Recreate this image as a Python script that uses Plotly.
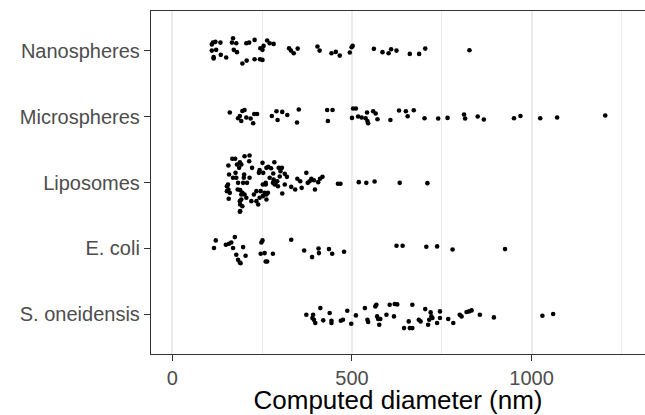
import plotly.graph_objects as go

# Category order from bottom (1) to top (5)
categories = ["S. oneidensis", "E. coli", "Liposomes", "Microspheres", "Nanospheres"]

# Computed diameters (nm) and vertical jitter offsets
nano_x = [113, 110, 120, 134, 110, 122, 115, 115, 135, 150, 169, 166, 178, 171, 180,
          195, 207, 206, 214, 229, 229, 244, 251, 251, 245, 254, 264, 271, 282, 325,
          330, 338, 349, 404, 410, 443, 455, 466, 494, 499, 502, 561, 585, 602, 609,
          624, 661, 687, 704, 827]
nano_dy = [0.121, 0.091, 0.132, 0.121, 0.0, 0.011, -0.1, -0.121, -0.065, -0.106, 0.188,
           0.121, 0.112, 0.011, -0.024, -0.197, -0.152, 0.112, 0.121, 0.162, -0.131,
           -0.131, -0.141, 0.011, 0.036, 0.071, 0.152, 0.112, 0.101, 0.036, 0.0, -0.04,
           0.03, 0.061, 0.0, -0.04, -0.02, -0.076, -0.03, 0.051, 0.071, 0.026, -0.024,
           -0.04, 0.021, 0.0, -0.05, -0.05, 0.03, 0.006]

micro_x = [160, 188, 183, 192, 195, 201, 206, 218, 225, 228, 236, 277, 290, 293, 306,
           320, 352, 347, 431, 446, 433, 503, 511, 500, 517, 527, 538, 542, 543, 545,
           559, 566, 571, 607, 631, 650, 655, 672, 702, 740, 766, 812, 815, 850, 867,
           951, 969, 1024, 1071, 1205]
micro_dy = [0.061, 0.009, -0.026, -0.067, 0.085, 0.1, -0.015, -0.03, -0.102, 0.039,
            0.039, 0.009, 0.08, -0.052, 0.07, 0.024, 0.106, -0.091, 0.1, 0.1, -0.067,
            0.121, 0.121, -0.021, 0.0, -0.015, -0.026, 0.061, -0.067, -0.102, 0.08,
            0.045, -0.041, -0.052, 0.091, 0.08, 0.005, 0.095, -0.026, -0.03, -0.021,
            0.03, -0.03, 0.0, -0.045, -0.026, 0.009, -0.026, -0.015, 0.015]

lipo_x = [167, 175, 201, 215, 188, 180, 192, 156, 214, 222, 251, 284, 262, 243, 241,
          275, 296, 305, 301, 158, 176, 200, 215, 169, 155, 152, 156, 160, 157, 183,
          197, 182, 189, 195, 201, 206, 188, 192, 252, 260, 257, 266, 262, 252, 234,
          239, 227, 246, 195, 189, 188, 281, 282, 288, 285, 294, 306, 313, 319, 331,
          342, 348, 356, 360, 373, 377, 382, 387, 394, 397, 406, 411, 418, 461, 468,
          519, 540, 563, 633, 710,
          186, 178, 199, 208, 152, 192, 189, 220, 243, 262, 260, 271, 280, 292, 299,
          313, 253, 267, 234]
lipo_dy = [0.359, 0.359, 0.399, 0.409, 0.308, 0.273, 0.273, 0.258, 0.323, 0.222, 0.298,
           0.308, 0.222, 0.187, 0.146, 0.217, 0.222, 0.222, 0.172, 0.121, 0.146, 0.121,
           0.071, 0.071, -0.03, -0.056, -0.106, -0.157, -0.247, -0.005, -0.005, -0.106,
           -0.116, -0.157, -0.182, -0.232, -0.283, -0.258, -0.03, -0.005, -0.157, -0.157,
           -0.258, -0.207, -0.283, -0.333, -0.182, -0.131, -0.359, -0.434, -0.444, 0.136,
           0.045, 0.005, -0.03, -0.056, -0.167, 0.131, 0.086, -0.066, -0.106, 0.056,
           0.02, -0.081, 0.146, -0.005, 0.02, 0.056, 0.035, -0.106, 0.005, 0.056, 0.086,
           -0.02, -0.02, 0.005, -0.005, 0.015, -0.005, -0.01,
           0.222, 0.071, 0.071, -0.005, -0.131, -0.182, -0.333, -0.283, -0.232, -0.182,
           -0.03, 0.071, -0.005, 0.02, 0.091, -0.03, 0.146, 0.237, -0.131]

ecoli_x = [121, 116, 149, 158, 164, 174, 169, 178, 183, 188, 190, 197, 204, 251, 248,
           246, 257, 260, 264, 280, 331, 367, 389, 407, 408, 436, 445, 478, 624, 641,
           707, 737, 780, 926]
ecoli_dy = [0.122, 0.006, 0.056, 0.071, 0.091, 0.172, 0.006, -0.095, -0.171, -0.212,
            -0.225, 0.021, -0.111, 0.122, 0.091, -0.08, -0.07, -0.197, -0.197, -0.08,
            0.132, -0.03, -0.131, 0.0, -0.07, -0.01, -0.08, -0.05, 0.041, 0.041, 0.026,
            0.031, -0.015, -0.01]

shew_x = [373, 392, 390, 394, 398, 412, 420, 438, 443, 443, 469, 475, 487, 498, 511,
          536, 543, 545, 565, 568, 570, 573, 576, 579, 596, 605, 619, 626, 617, 645,
          658, 661, 668, 668, 686, 691, 704, 712, 715, 719, 721, 724, 737, 745, 745,
          768, 782, 800, 805, 819, 826, 833, 856, 895, 1030, 1060]
shew_dy = [-0.005, -0.005, -0.055, -0.08, -0.131, 0.096, -0.09, 0.021, -0.095, -0.131,
           -0.095, -0.08, 0.056, -0.141, -0.015, 0.096, -0.08, -0.116, 0.122, 0.147,
           -0.03, -0.07, -0.156, -0.07, -0.005, 0.147, 0.157, 0.152, -0.03, -0.207,
           -0.106, -0.207, -0.207, 0.147, -0.08, -0.106, 0.081, -0.156, -0.08, 0.031,
           -0.03, -0.055, -0.131, 0.046, -0.055, -0.07, -0.131, -0.005, -0.03, 0.036,
           0.046, 0.061, -0.005, -0.045, -0.02, 0.006]

x_ticks = [0, 500, 1000]
x_minor_ticks = [250, 750, 1250]
x_title = "Computed diameter (nm)"

series = [
    ("S. oneidensis", shew_x, shew_dy),
    ("E. coli", ecoli_x, ecoli_dy),
    ("Liposomes", lipo_x, lipo_dy),
    ("Microspheres", micro_x, micro_dy),
    ("Nanospheres", nano_x, nano_dy),
]

fig = go.Figure()
for name, xs, dys in series:
    pos = categories.index(name) + 1
    fig.add_trace(go.Scatter(
        x=xs, y=[pos + d for d in dys], mode="markers", name=name,
        marker=dict(color="black", size=4.6, line=dict(width=0)),
        showlegend=False, hoverinfo="x+name",
    ))

font_family = "Liberation Sans, Arial, sans-serif"
fig.update_layout(
    width=645, height=415,
    margin=dict(l=151, r=0, t=11, b=61),
    paper_bgcolor="white", plot_bgcolor="white",
    font=dict(family=font_family, color="#4D4D4D", size=20),
)
fig.update_xaxes(
    automargin=False,
    range=[-59.3, 1315.6],
    tickvals=x_ticks, ticktext=[str(v) for v in x_ticks],
    showgrid=True, gridcolor="#EBEBEB", gridwidth=1.6,
    minor=dict(tickvals=x_minor_ticks, showgrid=True, gridcolor="#EBEBEB", gridwidth=1.2, ticks=""),
    zeroline=False,
    showline=True, linecolor="#333333", linewidth=1.3, mirror=True,
    ticks="outside", ticklen=6, tickwidth=1.1, tickcolor="#333333",
    tickfont=dict(size=20, color="#4D4D4D"),
    title=dict(text=x_title, font=dict(size=26, color="black"), standoff=8),
)
fig.update_yaxes(
    automargin=False,
    range=[0.4, 5.6],
    tickvals=[1, 2, 3, 4, 5], ticktext=categories,
    showgrid=False, zeroline=False,
    showline=True, linecolor="#333333", linewidth=1.3, mirror=False,
    ticks="outside", ticklen=6, tickwidth=1.1, tickcolor="#333333",
    tickfont=dict(size=20, color="#4D4D4D"),
)

fig.write_html(
    "out.html",
    config={"displayModeBar": False},
    post_script="document.body.style.margin='0';document.body.style.overflow='hidden';",
)
